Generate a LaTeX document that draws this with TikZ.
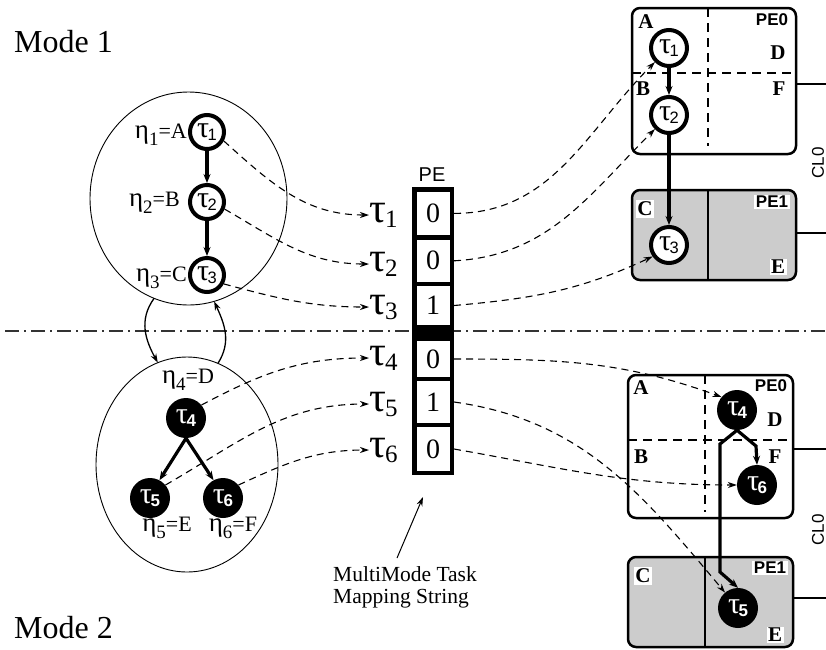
\documentclass[tikz,border=0pt]{standalone}
\usepackage{fontspec}
\setmainfont{Liberation Serif}
\newfontfamily\hv{Liberation Sans}
\usetikzlibrary{arrows.meta,shapes.geometric}
\newcommand\nt[1]{{\fontsize{30}{30}\selectfont τ}\kern-1.5pt\raisebox{-3pt}{\hv\fontsize{16.5}{16.5}\selectfont #1}}
\newcommand\nb[1]{{\fontsize{30}{30}\selectfont τ}\kern-1.5pt\raisebox{-3pt}{\hv\bfseries\fontsize{17}{17}\selectfont #1}}
\newcommand\ct[1]{{\fontsize{42}{42}\selectfont τ}\kern-1pt\raisebox{-5pt}{\fontsize{25}{25}\selectfont #1}}
\newcommand\et[2]{{\fontsize{27}{27}\selectfont η}\raisebox{-7pt}{\fontsize{19}{19}\selectfont #1}{\fontsize{22}{22}\selectfont =#2}}
\begin{document}
\begin{tikzpicture}[x=1pt,y=-1pt,
  wn/.style={circle,draw,line width=4pt,minimum size=34pt,inner sep=0pt,fill=white},
  bn/.style={circle,fill=black,minimum size=40pt,inner sep=0pt,text=white},
  da/.style={dash pattern=on 7pt off 5pt,line width=1.1pt,-{Stealth[length=9pt,width=6pt]}},
  ta/.style={line width=3.2pt,-{Stealth[length=9pt,width=7pt]}},
  loop/.style={line width=1.3pt,-{Stealth[length=9pt,width=6pt]}},
  ell/.style={ellipse,draw,line width=0.9pt,inner sep=0pt,outer sep=0pt},
  cell/.style={draw,line width=4.5pt,minimum width=37.5pt,inner sep=0pt,font=\fontsize{28}{28}\selectfont},
  pebox/.style={line width=2.5pt,rounded corners=8pt},
  bdash/.style={line width=2pt,dash pattern=on 9pt off 6pt},
  lab/.style={font=\bfseries\fontsize{21}{21}\selectfont,inner sep=1pt},
  pel/.style={font=\hv\bfseries\fontsize{17}{17}\selectfont,inner sep=1pt},
  wlab/.style={fill=white,inner sep=1.5pt},
  cl/.style={font=\hv\fontsize{17}{17}\selectfont,rotate=90,inner sep=0pt}]
\useasboundingbox (0,0) rectangle (826,649);

% mode labels
\node[anchor=base west,inner sep=0pt,font=\fontsize{32}{32}\selectfont] (m1) at (14,52) {Mode 1};
\node[anchor=base west,inner sep=0pt,font=\fontsize{32}{32}\selectfont] (m2) at (14,638) {Mode 2};

% dash-dot separator
\draw[line width=1.3pt,black!80,dash pattern=on 14pt off 5pt on 2pt off 5pt] (5,331) -- (826,331);

% ellipses
\node[ell,minimum width=197pt,minimum height=213pt] (e1) at (188.5,198.5) {};
\node[ell,minimum width=182pt,minimum height=215pt] (e2) at (187,464.5) {};
\draw[loop] (e1.251) .. controls +(-16,22) and +(-12,-22) .. (e2.106);
\draw[loop] (e2.73) .. controls +(14,-22) and +(10,22) .. (e1.284);

% mode 1 graph
\node[wn] (tl1) at (207,132) {\nt{1}};
\node[wn] (tl2) at (207,202) {\nt{2}};
\node[wn] (tl3) at (207,275) {\nt{3}};
\draw[ta] (tl1) -- (tl2);
\draw[ta] (tl2) -- (tl3);
\node[anchor=east,inner sep=0pt] (h1) at (187,135) {\et{1}{A}};
\node[anchor=east,inner sep=0pt] (h2) at (180,203) {\et{2}{B}};
\node[anchor=east,inner sep=0pt] (h3) at (187,278) {\et{3}{C}};

% mode 2 graph
\node[bn] (bl4) at (186,418) {\nb{4}};
\node[bn] (bl5) at (150,498) {\nb{5}};
\node[bn] (bl6) at (223,498) {\nb{6}};
\draw[ta] (bl4.south) -- (bl5.62);
\draw[ta] (bl4.south) -- (bl6.118);
\node[inner sep=0pt] (h4) at (188,380) {\et{4}{D}};
\node[inner sep=0pt] (h5) at (167,528) {\et{5}{E}};
\node[inner sep=0pt] (h6) at (233,528) {\et{6}{F}};

% mapping string column
\node[font=\hv\fontsize{20}{20}\selectfont,inner sep=0pt] (pe) at (432,175) {PE};
\fill (412,325) rectangle (454,339);
\node[cell,minimum height=48pt] (c1) at (433,213.4) {0};
\node[cell,minimum height=46.5pt] (c2) at (433,260.8) {0};
\node[cell,minimum height=43pt] (c3) at (433,305.5) {1};
\node[cell,minimum height=40pt] (c4) at (433,359) {0};
\node[cell,minimum height=46pt] (c5) at (433,402) {1};
\node[cell,minimum height=48pt] (c6) at (433,449) {0};

\node[anchor=west,inner sep=0pt] (l1) at (369,215) {\ct{1}};
\node[anchor=west,inner sep=0pt] (l2) at (369,264) {\ct{2}};
\node[anchor=west,inner sep=0pt] (l3) at (369,307) {\ct{3}};
\node[anchor=west,inner sep=0pt] (l4) at (369,358) {\ct{4}};
\node[anchor=west,inner sep=0pt] (l5) at (369,404) {\ct{5}};
\node[anchor=west,inner sep=0pt] (l6) at (369,450) {\ct{6}};

\draw[da] (tl1.-28) to[out=-42,in=180] (l1.west);
\draw[da] (tl2.-22) to[out=-30,in=180] (l2.west);
\draw[da] (tl3.-28) to[out=-15,in=180] (l3.west);
\draw[da] (bl4.40) to[out=28,in=180] (l4.west);
\draw[da] (bl5.40) to[out=30,in=180] (l5.west);
\draw[da] (bl6.40) to[out=25,in=180] (l6.west);

% caption
\node[anchor=north west,align=left,inner sep=0pt,font=\fontsize{21.5}{22}\selectfont] (cap) at (333,566) {MultiMode Task\\Mapping String};
\coordinate (capt) at (397,558);
\coordinate (colb) at (423,497);
\draw[line width=1pt,-{Stealth[length=9pt,width=6pt]}] (capt) -- (colb);

% ===== top right architecture =====
\draw[pebox] (632,8) rectangle (796,154);
\draw[bdash] (708,8) -- (708,146);
\draw[bdash] (632,73) -- (796,73);
\draw[pebox,fill=black!20] (632,190) rectangle (796,280);
\draw[line width=2pt] (708,190) -- (708,280);
\coordinate (r1) at (826,84);
\coordinate (r2) at (826,233);
\draw[line width=2pt] (796,84) -- (r1);
\draw[line width=2pt] (796,233) -- (r2);
\node[cl] (cl1) at (818,163) {CL0};
\node[lab] (la) at (646,22) {A};
\node[pel] (p0) at (772,20) {PE0};
\node[lab] (ld) at (778,53) {D};
\node[lab] (lb) at (643,89) {B};
\node[lab] (lf) at (779,89) {F};
\node[lab,wlab] (lc) at (645,209) {C};
\node[pel,wlab] (p1) at (772,202) {PE1};
\node[lab,wlab] (le) at (778,267) {E};

\node[wn,minimum size=36pt] (rt1) at (669,48) {\nt{1}};
\node[wn,minimum size=36pt] (rt2) at (669,115) {\nt{2}};
\node[wn,minimum size=36pt] (rt3) at (669,245) {\nt{3}};
\draw[ta] (rt1) -- (rt2);
\draw[ta] (rt2) -- (rt3);

% ===== bottom right architecture =====
\draw[pebox] (628,375) rectangle (793,518);
\draw[bdash] (705,375) -- (705,512);
\draw[bdash] (628,440) -- (793,440);
\draw[pebox,fill=black!20] (628,557) rectangle (793,647);
\draw[line width=2pt] (705,557) -- (705,647);
\coordinate (r3) at (826,449);
\coordinate (r4) at (826,598);
\draw[line width=2pt] (793,449) -- (r3);
\draw[line width=2pt] (793,598) -- (r4);
\node[cl] (cl2) at (818,530) {CL0};
\node[lab] (la2) at (641,388) {A};
\node[pel] (p02) at (771,386) {PE0};
\node[lab] (ld2) at (775,420) {D};
\node[lab] (lb2) at (641,457) {B};
\node[lab] (lf2) at (775,457) {F};
\node[lab,wlab] (lc2) at (643,576) {C};
\node[pel,wlab] (p12) at (770,568) {PE1};
\node[lab,wlab] (le2) at (775,635) {E};

\node[bn] (rb4) at (737,410) {\nb{4}};
\node[bn] (rb6) at (757,485) {\nb{6}};
\node[bn] (rb5) at (738,608) {\nb{5}};
\draw[ta] (rb4.south) -- (756,446) -- (rb6.north);
\draw[ta] (rb4.south) -- (720,444) -- (720,572) -- (rb5.north);

% mapping arrows to architecture
\draw[da] (c1.east) to[out=0,in=225] (rt1.225);
\draw[da] (c2.east) to[out=3,in=225] (rt2.225);
\draw[da] (c3.east) to[out=5,in=205] (rt3.215);
\draw[da] (c4.east) to[out=0,in=160] (rb4.140);
\draw[da] (c5.east) to[out=-8,in=130] (rb5.130);
\draw[da] (c6.east) to[out=-10,in=180] (rb6.west);
\end{tikzpicture}
\end{document}
